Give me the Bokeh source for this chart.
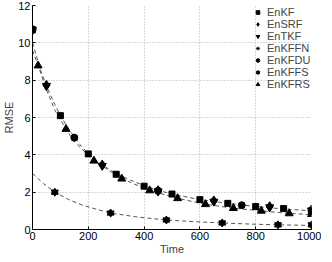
from bokeh.plotting import figure
from bokeh.models import Legend, LegendItem, Range1d, FixedTicker
from bokeh.embed import file_html
from bokeh.resources import INLINE

# ---- data ----
enkf_t = [0, 100, 200, 300, 400, 500, 600, 700, 800, 900, 1000]
enkf_v = [10.7, 6.1, 4.05, 2.96, 2.32, 1.9, 1.6, 1.4, 1.23, 1.12, 1.0]

ensrf_t = [0, 50, 250, 450, 650, 850, 1000]
ensrf_v = [10.7, 7.72, 3.45, 2.08, 1.53, 1.22, 1.05]

entkf_t = [0, 50, 250, 450, 650, 850, 1000]
entkf_v = [10.7, 7.7, 3.42, 2.05, 1.5, 1.2, 1.02]

enkffn_t = [80, 280, 480, 680, 880, 1000]
enkffn_v = [2.0, 0.88, 0.51, 0.35, 0.25, 0.25]

enkfdu_t = [0, 150, 450, 750, 1000]
enkfdu_v = [10.7, 4.92, 2.08, 1.3, 1.0]

enkffs_t = [80, 280, 480, 680, 880, 1000]
enkffs_v = [2.0, 0.88, 0.51, 0.35, 0.25, 0.25]

enkfrs_t = [20, 120, 220, 320, 420, 520, 620, 720, 820, 920, 1000]
enkfrs_v = [8.78, 5.38, 3.68, 2.72, 2.09, 1.67, 1.35, 1.14, 1.0, 0.86, 0.82]

# dashed fitted curves
curve_a_t = [0, 10, 20, 30, 40, 50, 60, 80, 100, 125, 150, 175, 200, 250, 300,
             350, 400, 450, 500, 600, 700, 800, 900, 1000]
curve_a_v = [10.0, 9.5, 9.0, 8.5, 8.1, 7.7, 7.35, 6.7, 6.1, 5.5, 4.95, 4.45, 4.05,
             3.45, 3.0, 2.65, 2.35, 2.1, 1.9, 1.6, 1.4, 1.23, 1.1, 1.0]
curve_b_t = [0, 20, 50, 80, 120, 150, 220, 320, 420, 520, 620, 720, 820, 920, 1000]
curve_b_v = [9.6, 8.8, 7.5, 6.4, 5.38, 4.7, 3.68, 2.72, 2.09, 1.67, 1.35, 1.14,
             1.0, 0.86, 0.8]
curve_c_t = [0, 40, 80, 130, 180, 230, 280, 380, 480, 580, 680, 780, 880, 1000]
curve_c_v = [3.0, 2.45, 2.0, 1.6, 1.3, 1.08, 0.88, 0.66, 0.51, 0.42, 0.35, 0.29,
             0.25, 0.22]

x_ticks = [0, 200, 400, 600, 800, 1000]
y_ticks = [0, 2, 4, 6, 8, 10, 12]

FONT = "Liberation Sans"
FW, FH = 279, 224

p = figure(frame_width=FW, frame_height=FH, output_backend="svg",
           toolbar_location=None,
           x_range=Range1d(0, 1000), y_range=Range1d(0, 12),
           min_border_left=0, min_border_right=10, min_border_top=5,
           min_border_bottom=0)
p.outline_line_color = None
p.background_fill_color = "white"

for ax in (p.xaxis[0], p.yaxis[0]):
    ax.axis_line_color = "black"
    ax.major_tick_in = 3
    ax.major_tick_out = 0
    ax.minor_tick_in = 0
    ax.minor_tick_out = 0
    ax.major_label_text_font = FONT
    ax.major_label_text_font_size = "11px"
    ax.major_label_text_color = "black"
    ax.axis_label_text_font = FONT
    ax.axis_label_text_font_size = "11px"
    ax.axis_label_text_font_style = "normal"
    ax.major_label_standoff = 2
    ax.axis_label_standoff = 0

p.xaxis.ticker = FixedTicker(ticks=x_ticks)
p.yaxis.ticker = FixedTicker(ticks=y_ticks)
p.xaxis.axis_label = "Time"
p.yaxis.axis_label = "RMSE"

p.grid.grid_line_color = "#b0b0b0"
p.grid.grid_line_dash = "1 2"
p.grid.grid_line_width = 1
p.xgrid.ticker = FixedTicker(ticks=x_ticks)
p.ygrid.ticker = FixedTicker(ticks=y_ticks)

dash_kw = dict(line_color="#555555", line_dash="4 3", line_width=1)
p.line(curve_a_t, curve_a_v, **dash_kw)
p.line(curve_b_t, curve_b_v, **dash_kw)
p.line(curve_c_t, curve_c_v, **dash_kw)

k = dict(color="black")
r_enkf = p.scatter(enkf_t, enkf_v, marker="square", size=6, **k)
r_ensrf = p.scatter(ensrf_t, ensrf_v, marker="diamond", size=10, **k)
r_entkf = p.scatter(entkf_t, entkf_v, marker="inverted_triangle", size=8, **k)
r_enkffn = p.scatter(enkffn_t, enkffn_v, marker="asterisk", size=7,
                     line_color="black", line_width=1)
r_enkfdu = p.scatter(enkfdu_t, enkfdu_v, marker="circle", size=7, **k)
r_fs1 = p.scatter(enkffs_t, enkffs_v, marker="triangle", size=7, **k)
r_fs2 = p.scatter(enkffs_t, enkffs_v, marker="inverted_triangle", size=7, **k)
r_enkfrs = p.scatter(enkfrs_t, enkfrs_v, marker="triangle", size=8, **k)

LEG_H = 7 * 12
LEG_W = 9 + 5 + 44
legend = Legend(items=[
    LegendItem(label="EnKF", renderers=[r_enkf]),
    LegendItem(label="EnSRF", renderers=[r_ensrf]),
    LegendItem(label="EnTKF", renderers=[r_entkf]),
    LegendItem(label="EnKFFN", renderers=[r_enkffn]),
    LegendItem(label="EnKFDU", renderers=[r_enkfdu]),
    LegendItem(label="EnKFFS", renderers=[r_fs1, r_fs2]),
    LegendItem(label="EnKFRS", renderers=[r_enkfrs]),
], location=(FW - LEG_W, FH - LEG_H - 1))
legend.background_fill_alpha = 0
legend.border_line_alpha = 0
legend.padding = 0
legend.margin = 0
legend.spacing = 0
legend.glyph_width = 9
legend.glyph_height = 12
legend.label_height = 12
legend.label_standoff = 5
legend.label_text_font = FONT
legend.label_text_font_size = "11px"
legend.label_text_baseline = "middle"
p.add_layout(legend)

open("out.html", "w").write(file_html(p, INLINE))
